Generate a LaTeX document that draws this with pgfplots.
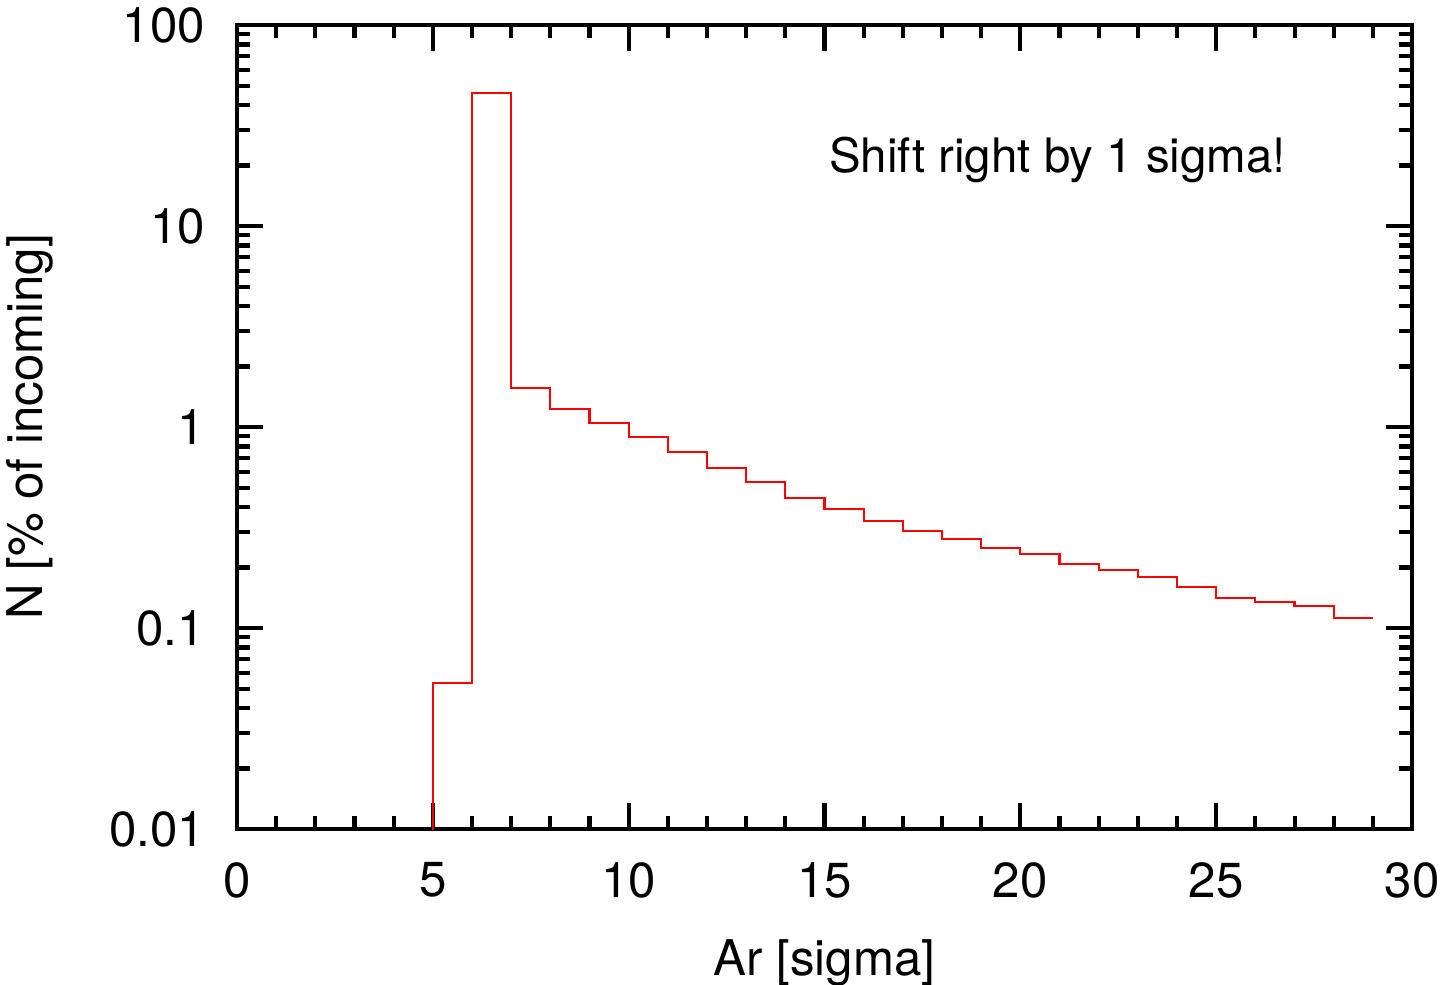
\documentclass[border=0pt]{standalone}
\usepackage{pgfplots}
\pgfplotsset{compat=1.18}
\usepackage{fontspec}
\setmainfont{TeX Gyre Heros}
\begin{document}
\fontsize{14}{17}\selectfont
\begin{tikzpicture}
\begin{axis}[
  name=ax,
  scale only axis,
  width=117.5mm, height=80.4mm,
  xmin=0, xmax=30, ymin=0.01, ymax=100,
  ymode=log,
  axis line style={line width=1.15pt},
  every tick/.style={black, line width=1.15pt},
  tick align=inside,
  major tick length=2.6mm,
  minor tick length=1.3mm,
  xtick={0,5,10,15,20,25,30},
  minor x tick num=4,
  ytick={0.01,0.1,1,10,100},
  yticklabels={0.01,0.1,1,10,100},
  /pgf/number format/assume math mode=true,
  xticklabel style={yshift=-1.6mm},
  yticklabel style={xshift=-1.5mm},
  xlabel={Ar [sigma]},
  ylabel={N [\% of incoming]},
  xlabel style={yshift=-0.8mm},
  ylabel style={yshift=2.2mm},
  clip=true,
]
\addplot[const plot mark left, red, line width=0.6pt] coordinates {
(5,0.0001) (5,0.0533) (6,45.9) (7,1.56) (8,1.23) (9,1.05) (10,0.89) (11,0.75)
(12,0.625) (13,0.532) (14,0.443) (15,0.391) (16,0.341) (17,0.304) (18,0.277)
(19,0.250) (20,0.233) (21,0.208) (22,0.194) (23,0.179) (24,0.160) (25,0.141)
(26,0.135) (27,0.129) (28,0.112) (29,0.112)
};
\node[font=\fontsize{13.5}{16}\selectfont] at (axis cs:20.95,21.3) {Shift right by 1 sigma!};
\end{axis}
\pgfresetboundingbox
\path ([xshift=-23.7mm,yshift=-15.5mm]ax.south west) rectangle ([xshift=3mm,yshift=2.5mm]ax.north east);
\end{tikzpicture}
\end{document}
